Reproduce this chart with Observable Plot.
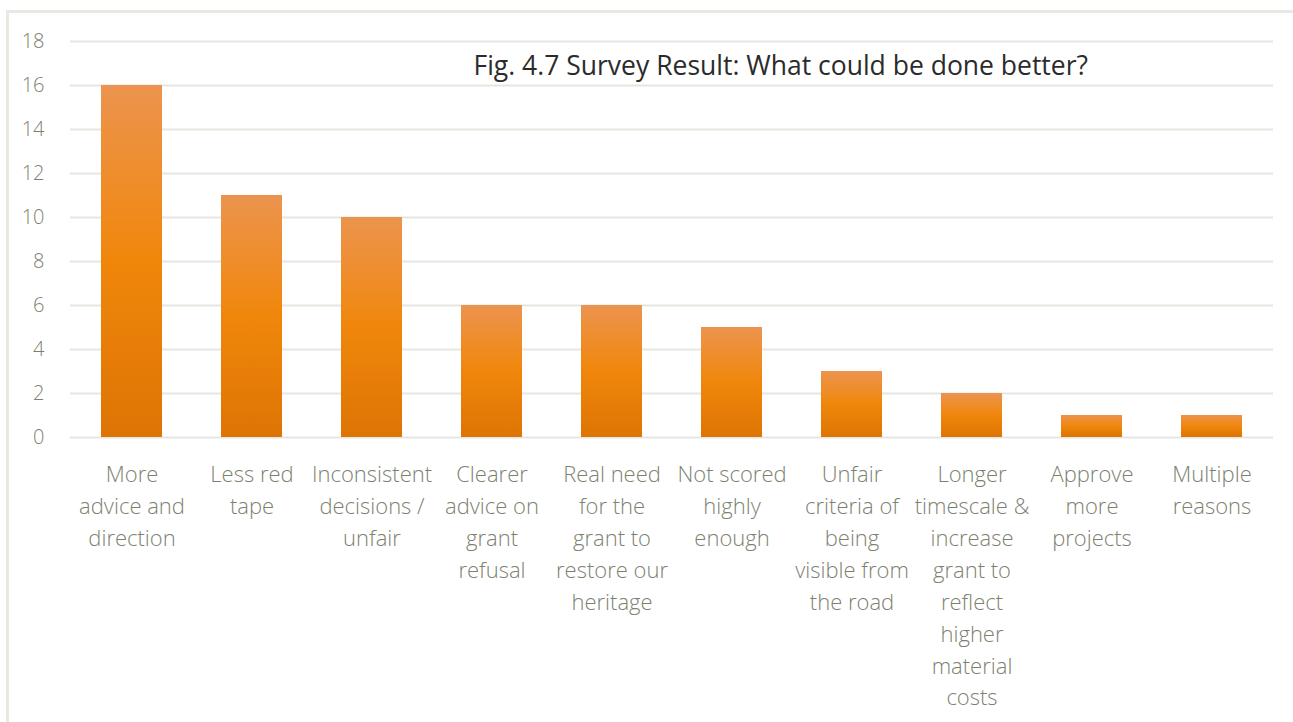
<!DOCTYPE html>
<html>
<head>
<meta charset="utf-8">
<script src="https://cdn.jsdelivr.net/npm/d3@7"></script>
<script src="https://cdn.jsdelivr.net/npm/@observablehq/plot@0.6"></script>
<style>
  html, body { margin: 0; padding: 0; background: #fff; }
  #wrap { position: relative; width: 1293px; height: 722px; overflow: hidden; }
  #frame { position: absolute; left: 6px; top: 10px; width: 1400px; height: 800px;
           border-left: 3px solid #e9e9e4; border-top: 3px solid #e9e9e4; box-sizing: border-box; }
  #chart { position: absolute; left: 0; top: 0; }
</style>
</head>
<body>
<div id="wrap"><div id="frame"></div><div id="chart"></div></div>
<script>
const categories = [
  "More\nadvice and\ndirection",
  "Less red\ntape",
  "Inconsistent\ndecisions /\nunfair",
  "Clearer\nadvice on\ngrant\nrefusal",
  "Real need\nfor the\ngrant to\nrestore our\nheritage",
  "Not scored\nhighly\nenough",
  "Unfair\ncriteria of\nbeing\nvisible from\nthe road",
  "Longer\ntimescale &\nincrease\ngrant to\nreflect\nhigher\nmaterial\ncosts",
  "Approve\nmore\nprojects",
  "Multiple\nreasons"
];
const counts = [16, 11, 10, 6, 6, 5, 3, 2, 1, 1];
const yTicks = [0, 2, 4, 6, 8, 10, 12, 14, 16, 18];
const title = "Fig. 4.7 Survey Result: What could be done better?";

const data = categories.map((c, i) => ({category: c, count: counts[i]}));

const chart = Plot.plot({
  width: 1293,
  height: 722,
  marginLeft: 70,
  marginRight: 20,
  marginTop: 41,
  marginBottom: 285,
  style: {fontFamily: "'Open Sans', sans-serif", background: "transparent"},
  x: {domain: categories, paddingInner: 0.49, paddingOuter: 0.245, label: null},
  y: {domain: [0, 18], ticks: yTicks, label: null},
  marks: [
    Plot.gridY(yTicks, {stroke: "#e6e6e0", strokeOpacity: 1, strokeWidth: 2}),
    Plot.barY(data, {x: "category", y: "count", fill: "url(#barGrad)"}),
    Plot.axisY(yTicks, {tickSize: 0, tickPadding: 26, fontSize: 20, fill: "#7d8270", fontWeight: 300}),
    Plot.axisX({tickSize: 0, tickPadding: 22, fontSize: 22, fill: "#7d8270", fontWeight: 300, lineHeight: 1.45, lineAnchor: "top"}),
    Plot.text([title], {frameAnchor: "top-left", dx: 403, dy: 25, text: d => d, fontSize: 26.5, fill: "#2b2b2b", fontWeight: 400, textAnchor: "start", lineAnchor: "middle"})
  ]
});

const svg = d3.select(chart);
const defs = svg.insert("defs", ":first-child");
const g = defs.append("linearGradient").attr("id", "barGrad").attr("x1", 0).attr("y1", 0).attr("x2", 0).attr("y2", 1);
g.append("stop").attr("offset", "0%").attr("stop-color", "#ec944f");
g.append("stop").attr("offset", "50%").attr("stop-color", "#f0870b");
g.append("stop").attr("offset", "100%").attr("stop-color", "#de7404");

document.getElementById("chart").appendChild(chart);
</script>
</body>
</html>
